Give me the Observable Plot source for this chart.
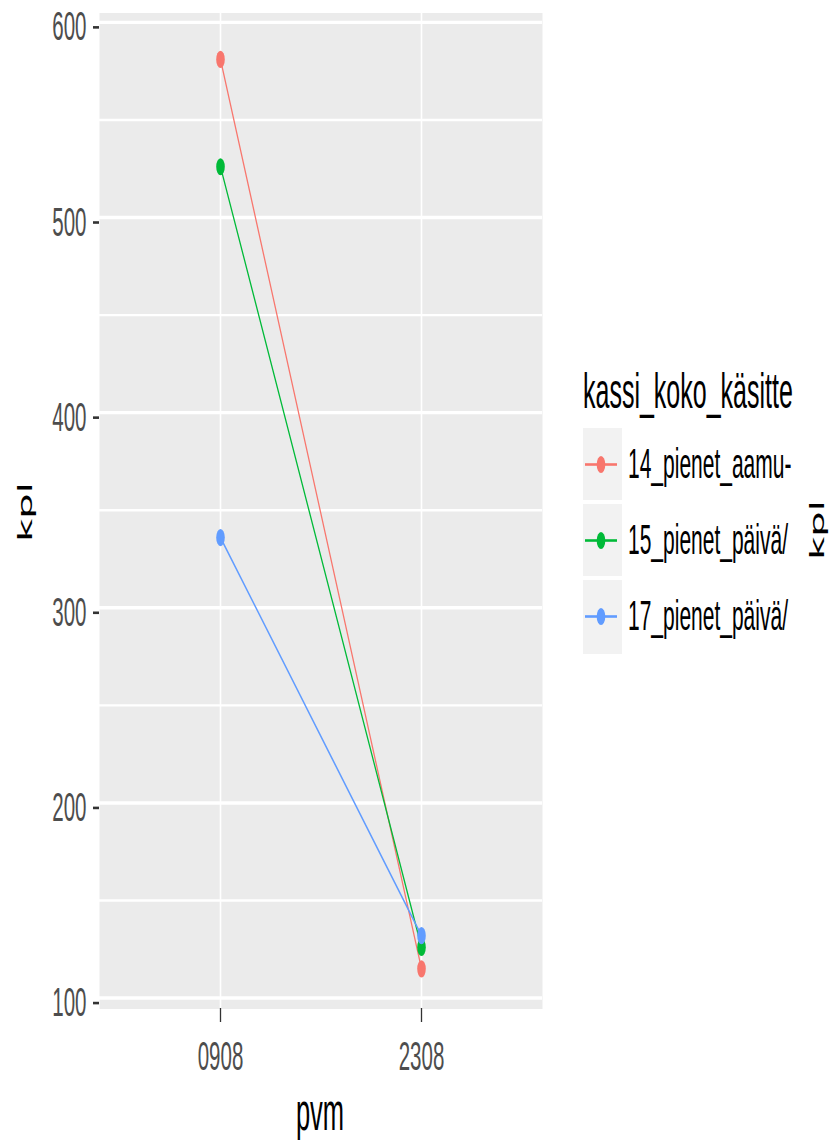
<!DOCTYPE html>
<html>
<head>
<meta charset="utf-8">
<script src="https://cdn.jsdelivr.net/npm/d3@7"></script>
<script src="https://cdn.jsdelivr.net/npm/@observablehq/plot@0.6"></script>
<style>
  html, body { margin: 0; padding: 0; background: #ffffff; }
  #outer { position: relative; width: 835px; height: 1146px; }
  #wrap { position: absolute; left: 0; top: 0; width: 835px; height: 573px; transform: scale(1, 2); transform-origin: 0 0; font-family: "Liberation Sans", Arial, sans-serif; }
  #chart { position: absolute; left: 0; top: 0; }
  .rot { position: absolute; font-family: "DejaVu Sans", sans-serif; font-size: 20px; color: #000; transform: translate(-50%, -50%) rotate(-90deg); white-space: nowrap; line-height: 1; }
  #xtitle { position: absolute; left: 320px; top: 544px; transform: translateX(-50%); font-size: 25.5px; line-height: 25.5px; color: #000; white-space: nowrap; }
  #legtitle { position: absolute; left: 583px; top: 183px; white-space: nowrap; font-size: 25px; line-height: 25px; color: #000; }
  .key { position: absolute; left: 583px; width: 39px; height: 36.5px; background: #F2F2F2; }
  .lab { position: absolute; left: 628px; height: 37.5px; white-space: nowrap; font-size: 21px; display: flex; align-items: center; color: #000; }
</style>
</head>
<body>
<div id="outer">
<div id="wrap">
  <div id="chart"></div>
  <div class="rot" style="left:25px; top:256px;">kpl</div>
  <div class="rot" style="left:817px; top:265px;">kpl</div>
  <div id="xtitle">pvm</div>
  <div id="legtitle">kassi_koko_käsitte</div>
  <div id="legend"></div>
</div>
</div>
<script>
const dates = ["0908", "2308"];
const groups = ["14_pienet_aamu-", "15_pienet_päivä/", "17_pienet_päivä/"];
const kpl14 = [581, 115];
const kpl15 = [526, 126];
const kpl17 = [336, 132];
const colors = ["#F8766D", "#00BA38", "#619CFF"];
const yMajor = [100, 200, 300, 400, 500, 600];
const yMinor = [150, 250, 350, 450, 550];

const series = [kpl14, kpl15, kpl17];
const data = [];
groups.forEach((g, gi) => dates.forEach((d, di) => data.push({ pvm: d, kpl: series[gi][di], group: g })));

const chart = Plot.plot({
  width: 835,
  height: 573,
  marginLeft: 99,
  marginRight: 293,
  marginTop: 6,
  marginBottom: 69,
  style: { fontFamily: "Liberation Sans, Arial, sans-serif", fontSize: "20.5px", background: "transparent", color: "#4D4D4D" },
  x: { type: "point", domain: dates, padding: 0.6, label: null },
  y: { domain: [94.4, 604.8], label: null },
  color: { domain: groups, range: colors },
  marks: [
    Plot.frame({ fill: "#EBEBEB", stroke: null }),
    Plot.ruleY(yMinor, { stroke: "white", strokeWidth: 1.2 }),
    Plot.ruleY(yMajor, { stroke: "white", strokeWidth: 1.7 }),
    Plot.ruleX(dates, { stroke: "white", strokeWidth: 1.6 }),
    Plot.line(data, { x: "pvm", y: "kpl", z: "group", stroke: "group", strokeWidth: 1.2 }),
    Plot.dot(data, { x: "pvm", y: "kpl", fill: "group", r: 4.3 }),
    Plot.axisY(yMajor, { tickSize: 6, tickPadding: 7, stroke: "#333333", strokeWidth: 1.3, dy: 2.5, fill: "#4D4D4D", label: null }),
    Plot.axisX(dates, { tickSize: 7, tickPadding: 9, stroke: "#333333", strokeWidth: 1.3, fill: "#4D4D4D", label: null })
  ]
});
document.getElementById("chart").appendChild(chart);

const leg = document.getElementById("legend");
groups.forEach((g, i) => {
  const top = 213.5 + 38.3 * i;
  const key = document.createElement("div");
  key.className = "key";
  key.style.top = top + "px";
  key.innerHTML = `<svg width="39" height="36.5" style="display:block"><line x1="2" x2="34" y1="18.25" y2="18.25" stroke="${colors[i]}" stroke-width="1.3"/><circle cx="18" cy="18.25" r="4.3" fill="${colors[i]}"/></svg>`;
  leg.appendChild(key);
  const lab = document.createElement("div");
  lab.className = "lab";
  lab.style.top = (top - 0.5) + "px";
  lab.textContent = g;
  leg.appendChild(lab);
});
</script>
</body>
</html>
